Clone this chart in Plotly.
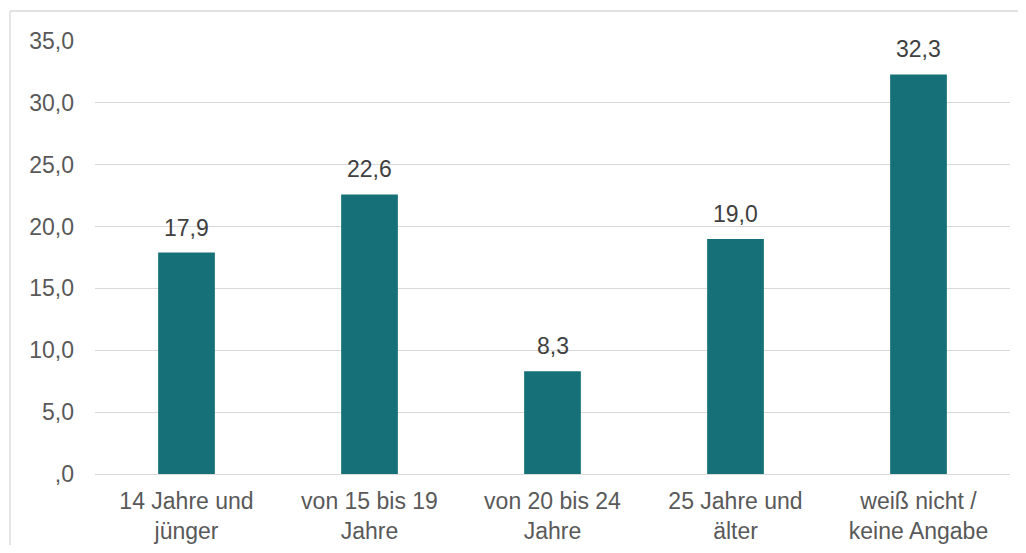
import plotly.graph_objects as go

categories = ["14 Jahre und<br>jünger", "von 15 bis 19<br>Jahre", "von 20 bis 24<br>Jahre",
              "25 Jahre und<br>älter", "weiß nicht /<br>keine Angabe"]
values = [17.9, 22.6, 8.3, 19.0, 32.3]
tick_vals = [0, 5, 10, 15, 20, 25, 30, 35]
tick_text = [",0", "5,0", "10,0", "15,0", "20,0", "25,0", "30,0", "35,0"]

# page body has an 8px margin; keep the page inside the window
W, H = 1010, 537
ml, mr, mt, mb = 87, 8, 33, 71
pw, ph = W - ml - mr, H - mt - mb

fig = go.Figure(go.Bar(x=categories, y=values, marker_color="#157177",
                       marker_line_width=0, width=0.31, hoverinfo="skip"))

for c, v in zip(categories, values):
    fig.add_annotation(x=c, y=v, text=f"{v:.1f}".replace(".", ","), showarrow=False,
                       yanchor="bottom", yshift=10,
                       font=dict(family="Liberation Sans, Arial", size=23, color="#404040"))

# chart frame (top and left edges; right/bottom lie outside the window)
fx0 = (2 - ml) / pw
fy1 = 1 + (mt - 3) / ph
frame = dict(color="#d9d9d9", width=1.3)
fig.add_shape(type="line", xref="paper", yref="paper", x0=fx0, x1=(W + 20 - ml) / pw,
              y0=fy1, y1=fy1, line=frame, layer="below")
fig.add_shape(type="line", xref="paper", yref="paper", x0=fx0, x1=fx0,
              y0=-(H + 20 - mt - ph) / ph, y1=fy1, line=frame, layer="below")

fig.update_layout(
    width=W, height=H,
    margin=dict(l=ml, r=mr, t=mt, b=mb, pad=0, autoexpand=False),
    plot_bgcolor="white", paper_bgcolor="white",
    showlegend=False,
    font=dict(family="Liberation Sans, Arial", size=23, color="#595959"),
)
fig.update_yaxes(range=[0, 35], tickvals=tick_vals, ticktext=tick_text, automargin=False,
                 showgrid=True, gridcolor="#d9d9d9", gridwidth=1.3,
                 zeroline=True, zerolinecolor="#d9d9d9", zerolinewidth=1.3,
                 showline=False, ticks="", ticklabelstandoff=20,
                 tickfont=dict(size=23, color="#595959"))
fig.update_xaxes(showgrid=False, showline=False, ticks="", ticklabelstandoff=11, automargin=False,
                 tickfont=dict(size=23, color="#595959"))

fig.write_html("out.html")
